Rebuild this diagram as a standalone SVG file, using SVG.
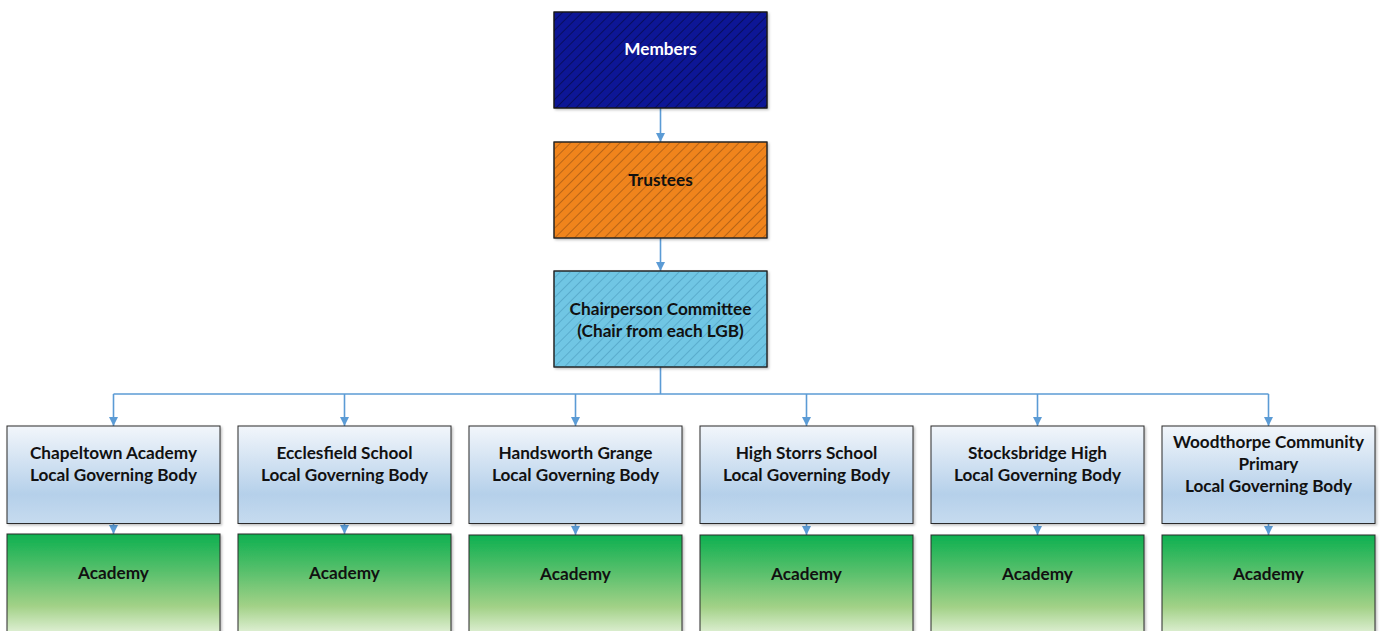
<svg xmlns="http://www.w3.org/2000/svg" width="1383" height="631" viewBox="0 0 1383 631">
<defs>
<pattern id="hatchDark" patternUnits="userSpaceOnUse" width="7" height="7" patternTransform="rotate(45)">
<line x1="0" y1="0" x2="0" y2="7" stroke="#000" stroke-width="1" opacity="0.75"/>
</pattern>
<pattern id="hatchOrange" patternUnits="userSpaceOnUse" width="7" height="7" patternTransform="rotate(45)">
<line x1="0" y1="0" x2="0" y2="7" stroke="#6b3a10" stroke-width="1" opacity="0.85"/>
</pattern>
<pattern id="hatchBlue" patternUnits="userSpaceOnUse" width="7" height="7" patternTransform="rotate(45)">
<line x1="0" y1="0" x2="0" y2="7" stroke="#3d8cae" stroke-width="1" opacity="0.9"/>
</pattern>
<linearGradient id="lgbGrad" x1="0" y1="0" x2="0" y2="1">
<stop offset="0" stop-color="#f2f6fb"/>
<stop offset="0.7" stop-color="#b5d0ea"/>
<stop offset="1" stop-color="#c6dbef"/>
</linearGradient>
<linearGradient id="acGrad" x1="0" y1="0" x2="0" y2="1">
<stop offset="0" stop-color="#0db050"/>
<stop offset="0.4" stop-color="#5ec16e"/>
<stop offset="0.72" stop-color="#a2d187"/>
<stop offset="1" stop-color="#e2f1d8"/>
</linearGradient>
<marker id="arr" viewBox="0 0 10 10" refX="10" refY="5" markerWidth="9" markerHeight="9" markerUnits="userSpaceOnUse" orient="auto">
<path d="M0,0 L10,5 L0,10 z" fill="#5b9bd5"/>
</marker>
<filter id="sh" x="-5%" y="-5%" width="115%" height="115%">
<feDropShadow dx="1.5" dy="1.5" stdDeviation="1" flood-color="#000" flood-opacity="0.25"/>
</filter>
</defs>
<style>
.box{stroke:#2a2a2a;stroke-width:1;filter:url(#sh)}
.t{font-family:Lato,"Open Sans","Liberation Sans",sans-serif;font-weight:bold;font-size:17.2px;text-anchor:middle;fill:#111}
.w{fill:#fff}
.c{stroke:#5b9bd5;stroke-width:1.6;fill:none}
</style>

<g id="connectors">
<line class="c" x1="660.5" y1="108" x2="660.5" y2="142" marker-end="url(#arr)"/>
<line class="c" x1="660.5" y1="238" x2="660.5" y2="271" marker-end="url(#arr)"/>
<polyline class="c" points="660.5,367 660.5,394"/>
<line class="c" x1="113.5" y1="394" x2="1268.5" y2="394"/>
<line class="c" x1="113.5" y1="394" x2="113.5" y2="426" marker-end="url(#arr)"/>
<line class="c" x1="344.5" y1="394" x2="344.5" y2="426" marker-end="url(#arr)"/>
<line class="c" x1="575.5" y1="394" x2="575.5" y2="426" marker-end="url(#arr)"/>
<line class="c" x1="806.5" y1="394" x2="806.5" y2="426" marker-end="url(#arr)"/>
<line class="c" x1="1037.5" y1="394" x2="1037.5" y2="426" marker-end="url(#arr)"/>
<line class="c" x1="1268.5" y1="394" x2="1268.5" y2="426" marker-end="url(#arr)"/>
<line class="c" x1="113.5" y1="524" x2="113.5" y2="534" marker-end="url(#arr)"/>
<line class="c" x1="344.5" y1="524" x2="344.5" y2="534" marker-end="url(#arr)"/>
<line class="c" x1="575.5" y1="524" x2="575.5" y2="535" marker-end="url(#arr)"/>
<line class="c" x1="806.5" y1="524" x2="806.5" y2="535" marker-end="url(#arr)"/>
<line class="c" x1="1037.5" y1="524" x2="1037.5" y2="535" marker-end="url(#arr)"/>
<line class="c" x1="1268.5" y1="524" x2="1268.5" y2="535" marker-end="url(#arr)"/>
</g>

<g id="members">
<rect class="box" x="554" y="12" width="213" height="96" fill="#0a1496"/>
<rect x="554" y="12" width="213" height="96" fill="url(#hatchDark)" stroke="#111" stroke-width="1"/>
<text class="t w" x="660.5" y="55">Members</text>
</g>
<g id="trustees">
<rect class="box" x="554" y="142" width="213" height="96" fill="#f0841f"/>
<rect x="554" y="142" width="213" height="96" fill="url(#hatchOrange)" stroke="#222" stroke-width="1"/>
<text class="t" x="660.5" y="186">Trustees</text>
</g>
<g id="chair">
<rect class="box" x="554" y="271" width="213" height="96" fill="#70c6e4"/>
<rect x="554" y="271" width="213" height="96" fill="url(#hatchBlue)" stroke="#222" stroke-width="1"/>
<text class="t" x="660.5" y="315">Chairperson Committee</text>
<text class="t" x="660.5" y="337">(Chair from each LGB)</text>
</g>

<g id="lgb1">
<rect class="box" x="7" y="426" width="213" height="97.5" fill="url(#lgbGrad)"/>
<text class="t" x="113.5" y="459">Chapeltown Academy</text>
<text class="t" x="113.5" y="481">Local Governing Body</text>
</g>
<g id="lgb2">
<rect class="box" x="238" y="426" width="213" height="97.5" fill="url(#lgbGrad)"/>
<text class="t" x="344.5" y="459">Ecclesfield School</text>
<text class="t" x="344.5" y="481">Local Governing Body</text>
</g>
<g id="lgb3">
<rect class="box" x="469" y="426" width="213" height="97.5" fill="url(#lgbGrad)"/>
<text class="t" x="575.5" y="459">Handsworth Grange</text>
<text class="t" x="575.5" y="481">Local Governing Body</text>
</g>
<g id="lgb4">
<rect class="box" x="700" y="426" width="213" height="97.5" fill="url(#lgbGrad)"/>
<text class="t" x="806.5" y="459">High Storrs School</text>
<text class="t" x="806.5" y="481">Local Governing Body</text>
</g>
<g id="lgb5">
<rect class="box" x="931" y="426" width="213" height="97.5" fill="url(#lgbGrad)"/>
<text class="t" x="1037.5" y="459">Stocksbridge High</text>
<text class="t" x="1037.5" y="481">Local Governing Body</text>
</g>
<g id="lgb6">
<rect class="box" x="1162" y="426" width="213" height="97.5" fill="url(#lgbGrad)"/>
<text class="t" x="1268.5" y="448">Woodthorpe Community</text>
<text class="t" x="1268.5" y="470">Primary</text>
<text class="t" x="1268.5" y="492">Local Governing Body</text>
</g>

<g id="academy1">
<rect class="box" x="7" y="534" width="213" height="100" fill="url(#acGrad)"/>
<text class="t" x="113.5" y="578.5">Academy</text>
</g>
<g id="academy2">
<rect class="box" x="238" y="534" width="213" height="100" fill="url(#acGrad)"/>
<text class="t" x="344.5" y="578.5">Academy</text>
</g>
<g id="academy3">
<rect class="box" x="469" y="535" width="213" height="100" fill="url(#acGrad)"/>
<text class="t" x="575.5" y="579.5">Academy</text>
</g>
<g id="academy4">
<rect class="box" x="700" y="535" width="213" height="100" fill="url(#acGrad)"/>
<text class="t" x="806.5" y="579.5">Academy</text>
</g>
<g id="academy5">
<rect class="box" x="931" y="535" width="213" height="100" fill="url(#acGrad)"/>
<text class="t" x="1037.5" y="579.5">Academy</text>
</g>
<g id="academy6">
<rect class="box" x="1162" y="535" width="213" height="100" fill="url(#acGrad)"/>
<text class="t" x="1268.5" y="579.5">Academy</text>
</g>
</svg>
